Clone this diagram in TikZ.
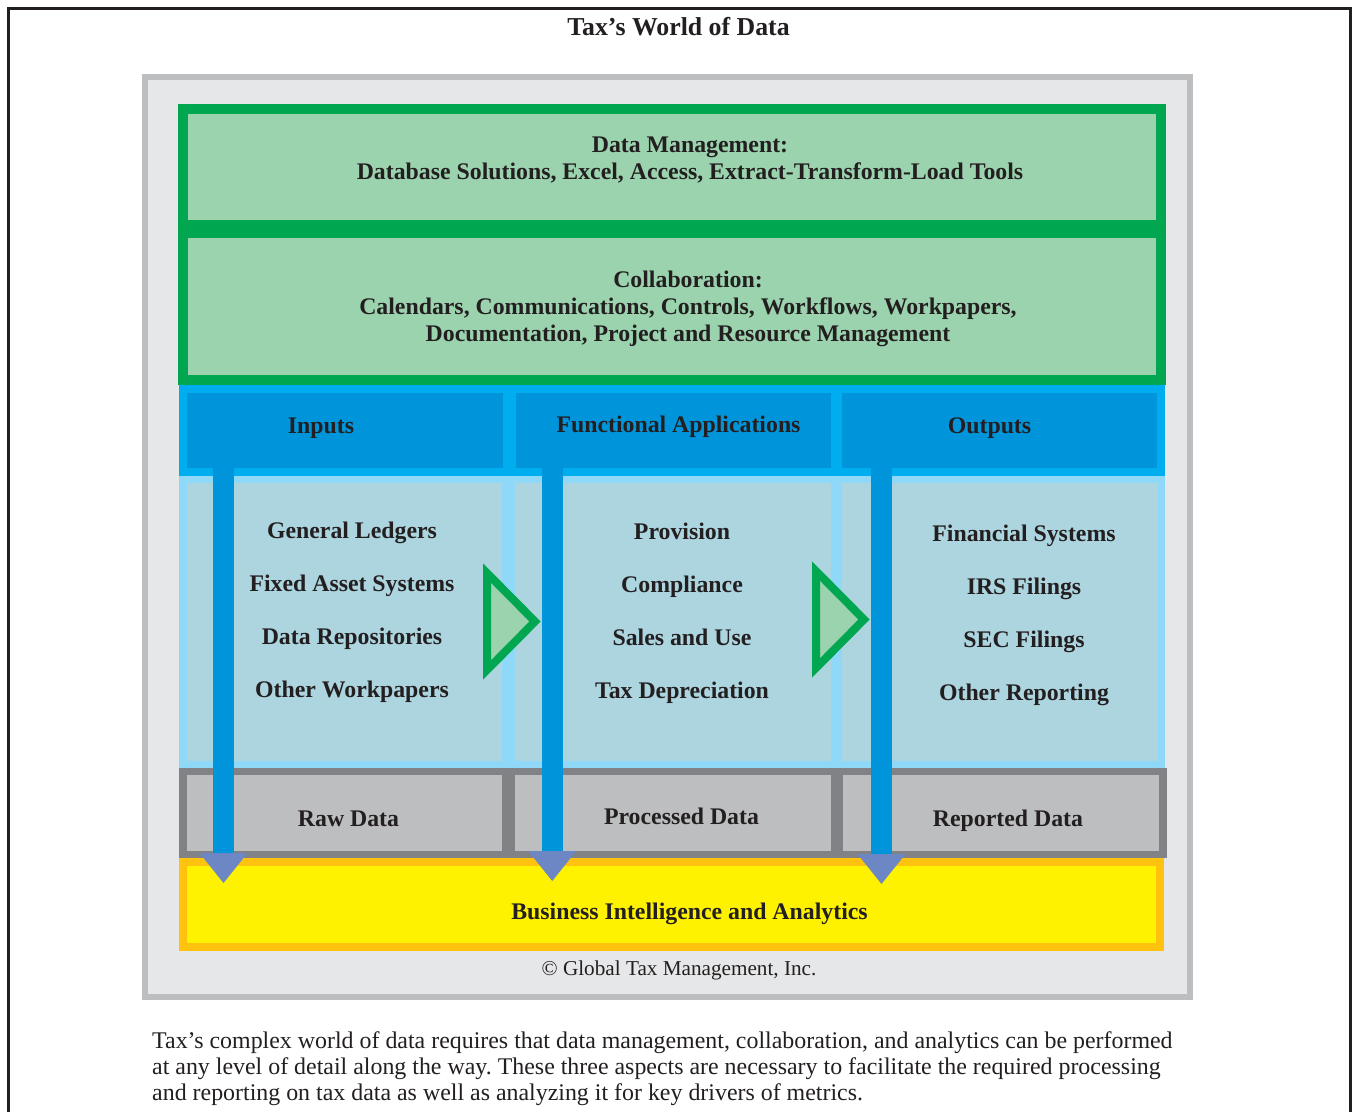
\documentclass[tikz,border=0pt]{standalone}
\usepackage{fontspec}
\setmainfont{Liberation Serif}
\usetikzlibrary{arrows.meta}
\frenchspacing

\definecolor{ink}{HTML}{231F20}
\definecolor{panelline}{HTML}{BCBEC0}
\definecolor{panelfill}{HTML}{E6E7E8}
\definecolor{grn}{HTML}{00A650}
\definecolor{lgrn}{HTML}{9BD3AE}
\definecolor{cyanband}{HTML}{00AEEF}
\definecolor{hdrblue}{HTML}{0095DA}
\definecolor{lcyan}{HTML}{8FD8F8}
\definecolor{cellblue}{HTML}{ACD5DF}
\definecolor{dgray}{HTML}{808285}
\definecolor{lgray}{HTML}{BCBEC0}
\definecolor{ybord}{HTML}{FFC20E}
\definecolor{yfill}{HTML}{FFF200}
\definecolor{slate}{HTML}{6D87C4}

\tikzset{
  box/.style={rectangle, inner sep=0pt, outer sep=0pt},
  bold/.style={text=ink, inner sep=0pt, outer sep=0pt, align=center,
               font=\fontsize{23.8}{27}\selectfont\bfseries},
  listtxt/.style={bold, font=\fontsize{23.8}{53}\selectfont\bfseries},
  greenbox/.style={box, draw=grn, fill=lgrn, line width=10pt},
  flowarrow/.style={draw=hdrblue, line width=21pt,
    -{Triangle[width=48pt, length=30pt, line width=0pt, color=slate, fill=slate]}},
  pointer/.style={draw=grn, fill=lgrn, line width=8pt, line join=miter},
}

\begin{document}
\begin{tikzpicture}[x=1pt, y=-1pt]
\useasboundingbox (0,0) rectangle (1352,1112);
\fill[white] (0,0) rectangle (1352,1112);

% page rule, open at the bottom
\draw[ink, line width=2.5pt] (8.7,1112) -- (8.7,8.7) -- (1350.5,8.7) -- (1350.5,1112);

\node[bold, font=\fontsize{25.8}{30}\selectfont\bfseries, anchor=base] (title) at (678.5,35.5) {Tax’s World of Data};

% grey panel
\node[box, draw=panelline, fill=panelfill, line width=6pt,
      minimum width=1045pt, minimum height=920pt] (panel) at (667.5,537) {};

% green layers
\node[greenbox, minimum width=978pt, minimum height=147pt] (collab) at (672,306.5) {};
\node[greenbox, minimum width=978pt, minimum height=116pt] (dm) at (672,167) {};
\node[bold] (dmtxt) at (690,160.5) {Data Management:\\Database Solutions, Excel, Access, Extract-Transform-Load Tools};
\node[bold] (colltxt) at (688,308.5) {Collaboration:\\Calendars, Communications, Controls, Workflows, Workpapers,\\Documentation, Project and Resource Management};

% column headers
\node[box, fill=cyanband, minimum width=986pt, minimum height=91pt] (hband) at (672,430.5) {};
\node[box, fill=hdrblue, minimum width=316pt, minimum height=75pt] (hin) at (345,430.5) {};
\node[box, fill=hdrblue, minimum width=315pt, minimum height=75pt] (hfun) at (673.5,430.5) {};
\node[box, fill=hdrblue, minimum width=315pt, minimum height=75pt] (hout) at (999.5,430.5) {};
\node[bold, anchor=base] at (321,433.5) {Inputs};
\node[bold, anchor=base] at (678.5,432.5) {Functional Applications};
\node[bold, anchor=base] at (989.5,433.5) {Outputs};

% column bodies
\node[box, fill=lcyan, minimum width=986pt, minimum height=292pt] (bband) at (672,622) {};
\node[box, fill=cellblue, minimum width=315pt, minimum height=278pt] (bin) at (344.5,622) {};
\node[box, fill=cellblue, minimum width=316pt, minimum height=278pt] (bfun) at (673,622) {};
\node[box, fill=cellblue, minimum width=316pt, minimum height=278pt] (bout) at (1000,622) {};
\node[listtxt] (lin) at (352,612) {General Ledgers\\Fixed Asset Systems\\Data Repositories\\Other Workpapers};
\node[listtxt] (lfun) at (682,613) {Provision\\Compliance\\Sales and Use\\Tax Depreciation};
\node[listtxt] (lout) at (1024,615) {Financial Systems\\IRS Filings\\SEC Filings\\Other Reporting};

% data stages
\node[box, fill=dgray, minimum width=988pt, minimum height=90pt] (gband) at (673,813) {};
\node[box, fill=lgray, minimum width=315pt, minimum height=76pt] (raw) at (344.5,813) {};
\node[box, fill=lgray, minimum width=316pt, minimum height=76pt] (proc) at (673,813) {};
\node[box, fill=lgray, minimum width=316pt, minimum height=76pt] (rep) at (1001,813) {};
\node[bold, anchor=base] at (348.5,826) {Raw Data};
\node[bold, anchor=base] at (681.5,824) {Processed Data};
\node[bold, anchor=base] at (1008,826) {Reported Data};

% analytics layer
\node[box, draw=ybord, fill=yfill, line width=8pt,
      minimum width=977pt, minimum height=85pt] (bi) at (671.5,904.5) {};
\node[bold, anchor=base] at (689.5,919.5) {Business Intelligence and Analytics};

\node[text=ink, inner sep=0pt, anchor=base, font=\fontsize{21.2}{25}\selectfont] (copy) at (679,975.5) {© Global Tax Management, Inc.};

% green pointers between columns
\draw[pointer] (487,573) -- (535,621.5) -- (487,670) -- cycle;
\draw[pointer] (816,571) -- (864,619.5) -- (816,668) -- cycle;

% flow arrows down into analytics
\coordinate (a1) at (223.5,883);
\coordinate (a2) at (552.25,881);
\coordinate (a3) at (881.5,884);
\draw[flowarrow] (hin.south -| a1) -- (a1);
\draw[flowarrow] (hfun.south -| a2) -- (a2);
\draw[flowarrow] (hout.south -| a3) -- (a3);

% caption
\node[text=ink, inner sep=0pt, anchor=north west, align=left,
      font=\fontsize{23.9}{26}\selectfont] (caption) at (152,1031.8)
  {Tax’s complex world of data requires that data management, collaboration, and analytics can be performed\\
   at any level of detail along the way. These three aspects are necessary to facilitate the required processing\\
   and reporting on tax data as well as analyzing it for key drivers of metrics.};
\end{tikzpicture}
\end{document}
